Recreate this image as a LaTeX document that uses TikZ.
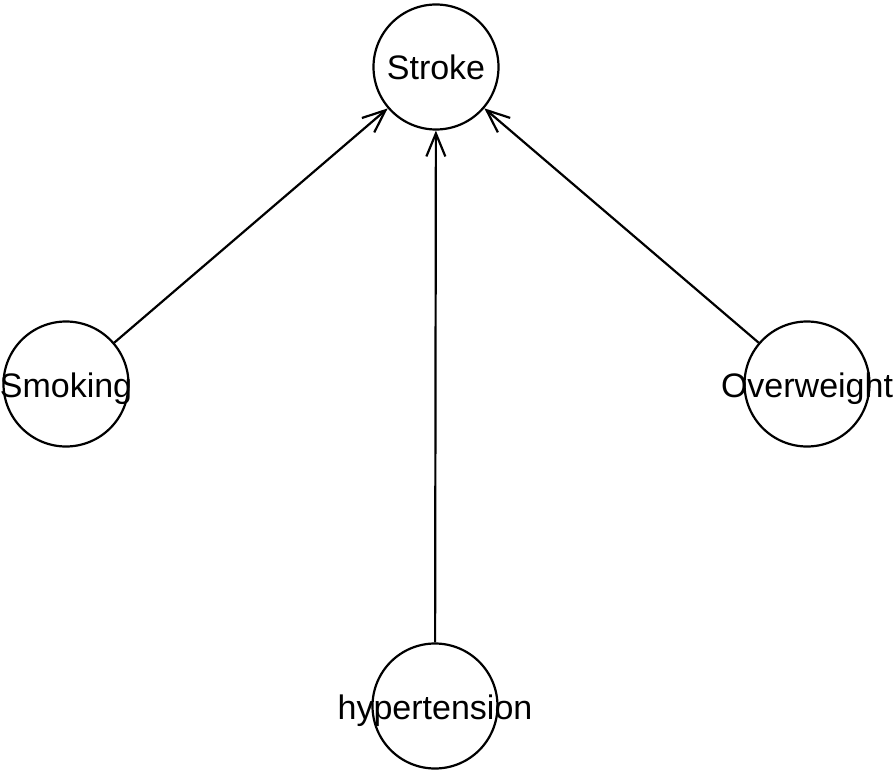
\documentclass[tikz,border=0pt]{standalone}
\usepackage{fontspec}
\setmainfont{Liberation Sans}
\usetikzlibrary{arrows.meta}
\tikzset{%
  var/.style={%
    circle,%
    draw,%
    line width=2.2pt,%
    minimum size=125pt,%
    inner sep=0pt},%
  cause/.style={%
    draw,%
    line width=2.2pt,%
    -{Straight Barb[length=23pt,width=19pt,line width=2.2pt]}}
}
\newcommand{\varlabel}[1]{\makebox[0pt]{\smash{\raisebox{-13pt}{#1}}}}

\begin{document}
\begin{tikzpicture}[x=1pt,y=-1pt,every
        node/.style={font=\fontsize{34}{36}\selectfont}]
        \useasboundingbox (0,0) rectangle (894,770);
        \node [var] (stroke) at (436,67) {\varlabel{Stroke}};
        \node [var] (smoking) at (66,384) {\varlabel{Smoking}};
        \node [var] (overweight) at (807,384) {\varlabel{Overweight}};
        \node [var] (hyper) at (435,706) {\varlabel{hypertension}};
        \draw [cause] (smoking) -- (stroke);
        \draw [cause] (hyper) -- (stroke);
        \draw [cause] (overweight) -- (stroke);
      \end{tikzpicture}
\end{document}
